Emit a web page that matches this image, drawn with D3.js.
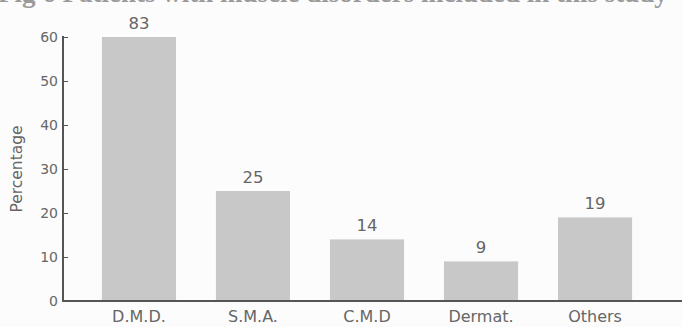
<!DOCTYPE html>
<html>
<head>
<meta charset="utf-8">
<script src="https://cdn.jsdelivr.net/npm/d3@7"></script>
<style>
  html, body { margin: 0; padding: 0; background: #fcfcfc; }
  svg { display: block; }
</style>
</head>
<body>
<svg id="chart" width="682" height="327"></svg>
<script>
// Patients per disorder group; the axis shows percentage up to 60
const categories = ["D.M.D.", "S.M.A.", "C.M.D", "Dermat.", "Others"];
const patientCounts = [83, 25, 14, 9, 19];
const yTicks = [0, 10, 20, 30, 40, 50, 60];
const yDomain = [0, 60];
const titleText = "Fig 6  Patients with muscle disorders included in this study";
const yLabel = "Percentage";

const svg = d3.select("#chart");
const W = 682, H = 327;
const left = 63, baseY = 301, topY = 37;

const textColor = "#666";
const axisColor = "#555";
const barColor = "#c8c8c8";
const font = "DejaVu Sans, Verdana, sans-serif";

const x = d3.scaleBand()
  .domain(categories)
  .range([62, 672])
  .padding(0.35);

// Clamped so a count above the axis maximum stops at the top tick
const y = d3.scaleLinear()
  .domain(yDomain)
  .range([baseY, topY])
  .clamp(true);

// Caption running off the top edge
svg.append("text")
  .attr("x", -2)
  .attr("y", 2)
  .attr("font-family", "Liberation Serif, serif")
  .attr("font-weight", "bold")
  .attr("font-size", 27)
  .attr("fill", "#9a9a9a")
  .text(titleText);

// Bars
svg.append("g")
  .selectAll("rect")
  .data(patientCounts)
  .join("rect")
  .attr("x", (d, i) => x(categories[i]))
  .attr("width", x.bandwidth())
  .attr("y", d => y(d))
  .attr("height", d => baseY - y(d))
  .attr("fill", barColor);

// Count labels above bars
svg.append("g")
  .selectAll("text")
  .data(patientCounts)
  .join("text")
  .attr("x", (d, i) => x(categories[i]) + x.bandwidth() / 2)
  .attr("y", d => y(d) - 8.5)
  .attr("text-anchor", "middle")
  .attr("font-family", font)
  .attr("font-size", 16.5)
  .attr("fill", textColor)
  .text(d => d);

// Left axis with inward ticks
const yAxis = d3.axisLeft(y)
  .tickValues(yTicks)
  .tickSize(-5)
  .tickPadding(5)
  .tickFormat(d3.format("d"));

const gy = svg.append("g")
  .attr("transform", `translate(${left},0)`)
  .call(yAxis);
gy.select(".domain").remove();
gy.selectAll(".tick line").attr("stroke", axisColor).attr("stroke-width", 1);
gy.selectAll(".tick text")
  .attr("font-family", font)
  .attr("font-size", 14)
  .attr("fill", textColor);

svg.append("line")
  .attr("x1", left).attr("x2", left)
  .attr("y1", topY - 1).attr("y2", baseY + 1)
  .attr("stroke", axisColor)
  .attr("stroke-width", 2);

// Baseline running to the right edge
svg.append("line")
  .attr("x1", left - 1).attr("x2", W)
  .attr("y1", baseY).attr("y2", baseY)
  .attr("stroke", axisColor)
  .attr("stroke-width", 2);

// Category labels
const xAxis = d3.axisBottom(x).tickSize(0).tickPadding(0);
const gx = svg.append("g")
  .attr("transform", `translate(0,${baseY})`)
  .call(xAxis);
gx.select(".domain").remove();
gx.selectAll(".tick text")
  .attr("y", 21)
  .attr("dy", 0)
  .attr("font-family", font)
  .attr("font-size", 16)
  .attr("fill", textColor);

// Y axis title
svg.append("text")
  .attr("transform", `translate(22,${(topY + baseY) / 2}) rotate(-90)`)
  .attr("text-anchor", "middle")
  .attr("font-family", font)
  .attr("font-size", 15.5)
  .attr("fill", textColor)
  .text(yLabel);
</script>
</body>
</html>
